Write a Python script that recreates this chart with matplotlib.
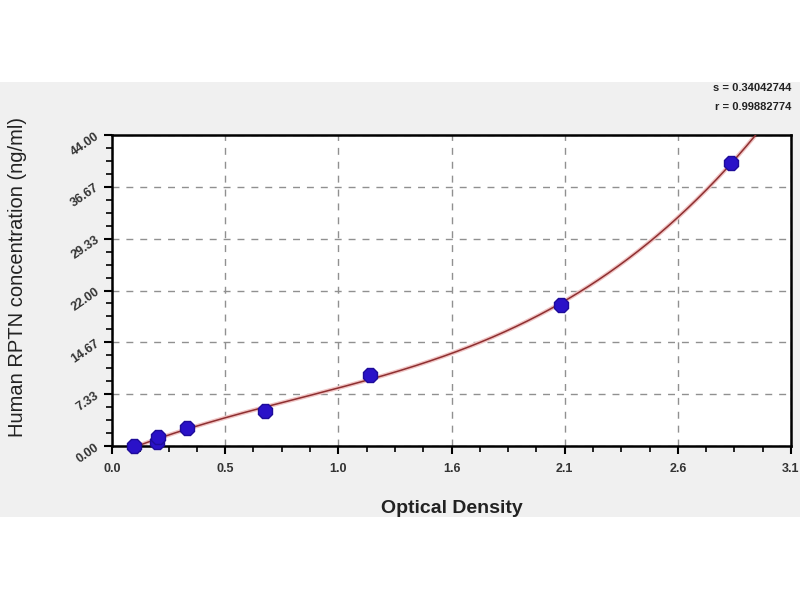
import numpy as np
import matplotlib
matplotlib.use("Agg")
import matplotlib.pyplot as plt
from matplotlib.ticker import AutoMinorLocator, FixedLocator

plt.rcParams['font.family'] = ['Liberation Sans', 'DejaVu Sans']

# Data (standards)
od = [0.100, 0.205, 0.210, 0.342, 0.699, 1.180, 2.050, 2.826]
conc = [0.0, 0.625, 1.25, 2.5, 5.0, 10.0, 20.0, 40.0]
xticks = [0.0, 3.1/6, 2*3.1/6, 3*3.1/6, 4*3.1/6, 5*3.1/6, 3.1]
xticklabels = ["0.0", "0.5", "1.0", "1.6", "2.1", "2.6", "3.1"]
yticks = [0, 44/6, 2*44/6, 3*44/6, 4*44/6, 5*44/6, 44]
yticklabels = ["0.00", "7.33", "14.67", "22.00", "29.33", "36.67", "44.00"]
stats = ["s = 0.34042744", "r = 0.99882774"]

fig = plt.figure(figsize=(8, 6), dpi=100)
fig.patch.set_facecolor("white")
bg = fig.add_axes([0, 1 - 517/600, 1, (517-82)/600], zorder=-10)
bg.set_facecolor("#f0f0f0")
bg.set_xticks([]); bg.set_yticks([])
for s in bg.spines.values():
    s.set_visible(False)

ax = fig.add_axes([112/800, 1 - 446/600, (791-112)/800, (446-135)/600], zorder=1)
ax.set_facecolor("white")
ax.set_xlim(0, 3.1)
ax.set_ylim(0, 44)

# Fitted curve (cubic fit of the standards)
coef = np.polyfit(od, conc, 3)
xs = np.linspace(min(od), 3.1, 400)
ys = np.polyval(coef, xs)
mask = ys <= 44.5
ax.plot(xs[mask], ys[mask], color="#f0c4c4", lw=3.0, zorder=2, solid_capstyle="round")
ax.plot(xs[mask], ys[mask], color="#8e2f30", lw=1.1, zorder=3)

ax.plot(od, conc, linestyle="none", marker="8", markersize=11,
        markerfacecolor="#2a12c8", markeredgecolor="#1e0c9a", zorder=4, clip_on=False)

ax.xaxis.set_major_locator(FixedLocator(xticks))
ax.yaxis.set_major_locator(FixedLocator(yticks))
ax.xaxis.set_minor_locator(AutoMinorLocator(4))
ax.yaxis.set_minor_locator(AutoMinorLocator(4))
ax.set_xticklabels(xticklabels, fontsize=9, fontweight="bold", color="#333333")
ax.set_yticklabels(yticklabels, fontsize=9, fontweight="bold", color="#333333", rotation=35,
                   ha="right", va="center", rotation_mode="anchor")
ax.tick_params(axis="both", which="major", direction="out", length=6, width=1.5, color="black")
ax.tick_params(axis="both", which="minor", direction="out", length=4, width=1.2, color="black")
ax.tick_params(axis="x", pad=6)
ax.tick_params(axis="y", pad=4)

ax.grid(True, which="major", linestyle=(0, (5, 5)), color="#909090", lw=1.0)
ax.set_axisbelow(True)
for s in ax.spines.values():
    s.set_linewidth(1.8)
    s.set_color("black")

ax.set_xlabel("Optical Density", fontsize=14, fontweight="bold", color="#222222", labelpad=18)
fig.text(18/800, 1 - 277/600, "Human RPTN concentration (ng/ml)", rotation=90,
         fontsize=14.5, color="#222222", ha="center", va="center")

fig.text(791/800, 1 - 88/600, stats[0], fontsize=8, fontweight="bold", ha="right", va="center", color="#222222")
fig.text(791/800, 1 - 107/600, stats[1], fontsize=8, fontweight="bold", ha="right", va="center", color="#222222")

fig.savefig("out.png", dpi=100, facecolor=fig.get_facecolor())
